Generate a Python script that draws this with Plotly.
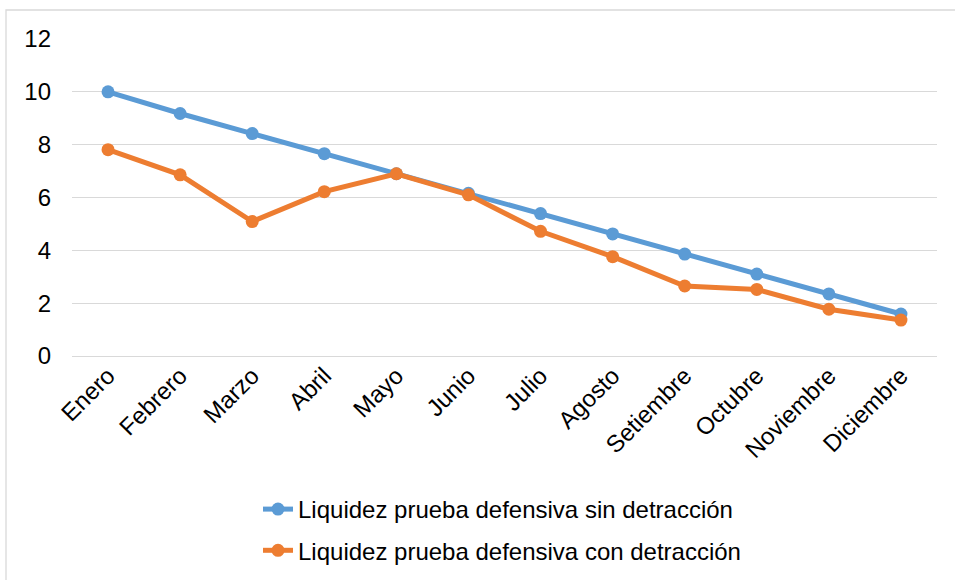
import plotly.graph_objects as go

meses = ["Enero", "Febrero", "Marzo", "Abril", "Mayo", "Junio", "Julio",
         "Agosto", "Setiembre", "Octubre", "Noviembre", "Diciembre"]
sin_detraccion = [10.0, 9.18, 8.42, 7.66, 6.9, 6.16, 5.39, 4.62, 3.86, 3.1, 2.35, 1.59]
con_detraccion = [7.81, 6.86, 5.09, 6.22, 6.9, 6.1, 4.72, 3.76, 2.65, 2.52, 1.77, 1.36]
y_ticks = [0, 2, 4, 6, 8, 10, 12]

W, H = 955, 580
L, R, T, B = 72, 18, 39, 224
pw, ph = W - L - R, H - T - B

font_family = "Arial, Liberation Sans, sans-serif"
FS = 24

fig = go.Figure()
fig.add_trace(go.Scatter(
    x=meses, y=sin_detraccion, mode="lines+markers",
    name="Liquidez prueba defensiva sin detracción",
    line=dict(color="#5B9BD5", width=5),
    marker=dict(color="#5B9BD5", size=13),
    legendgroup="a",
))
fig.add_trace(go.Scatter(
    x=meses, y=con_detraccion, mode="lines+markers",
    name="Liquidez prueba defensiva con detracción",
    line=dict(color="#ED7D31", width=5),
    marker=dict(color="#ED7D31", size=13),
    legendgroup="b",
))

fig.update_layout(
    width=W, height=H,
    margin=dict(l=L, r=R, t=T, b=B, autoexpand=False),
    paper_bgcolor="white", plot_bgcolor="white",
    font=dict(family=font_family, size=FS, color="#000000"),
    showlegend=True,
    legend=dict(
        x=(502 - L) / pw, xanchor="center",
        y=(T + ph - 487) / ph, yanchor="top",
        orientation="v",
        font=dict(size=FS),
        tracegroupgap=7,
        bgcolor="rgba(0,0,0,0)",
    ),
    xaxis=dict(
        type="category", range=[-0.5, 11.5],
        tickangle=-45, showgrid=False, showline=False, zeroline=False,
        ticks="", tickfont=dict(size=FS),
    ),
    yaxis=dict(
        range=[0, 12], tickvals=y_ticks, showgrid=True,
        gridcolor="#D9D9D9", gridwidth=1.3, zeroline=True,
        zerolinecolor="#D9D9D9", zerolinewidth=1.3, showline=False,
        ticks="", ticklabelstandoff=20, tickfont=dict(size=FS),
    ),
    shapes=[dict(
        type="rect", xref="paper", yref="paper",
        x0=(6 - L) / pw, x1=(W + 5 - L) / pw,
        y0=(T + ph - (H + 5)) / ph, y1=(T + ph - 10) / ph,
        line=dict(color="#D9D9D9", width=1.3), fillcolor="rgba(0,0,0,0)",
        layer="below",
    )],
)

fig.write_html(
    "out.html",
    config={"displayModeBar": False},
    post_script="document.body.style.margin='0';document.body.style.overflow='hidden';",
)
